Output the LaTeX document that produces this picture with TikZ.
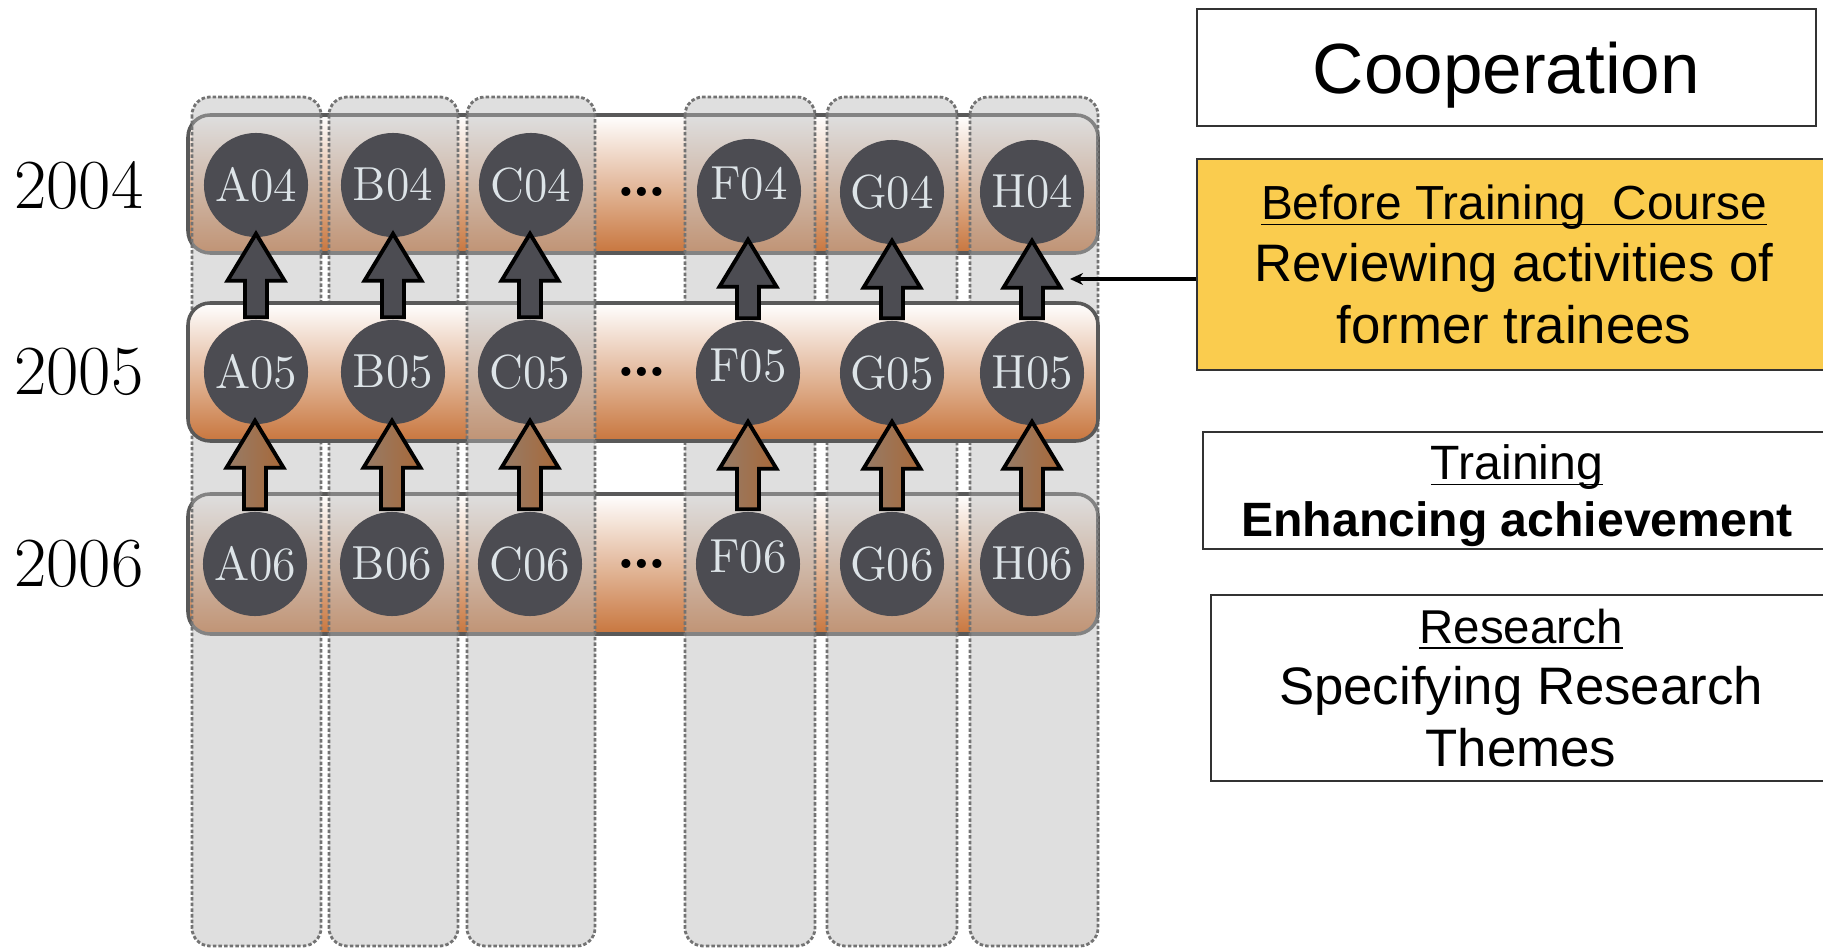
\documentclass[tikz,border=0pt]{standalone}
\usepackage{fontspec}
\newfontfamily\arialf{Liberation Sans}
\usetikzlibrary{calc,arrows.meta}
\definecolor{circfill}{RGB}{76,76,82}
\definecolor{circtext}{RGB}{221,228,232}
\definecolor{rowbot}{RGB}{200,118,62}
\definecolor{ybg}{RGB}{250,204,78}
\definecolor{arrL}{RGB}{150,124,104}
\definecolor{arrR}{RGB}{168,104,56}
\newcommand{\ulx}[1]{\underline{\raisebox{0pt}[\height][0pt]{#1}}}
\newcommand{\uparr}[3]{%
  \coordinate (tmpb) at (#1.north);
  \coordinate (tmpt) at (#1.north |- #2.south);
  \draw[#3] ($(tmpb)+(-11,-2)$) -- ($(tmpt)+(-11,43)$) -- ($(tmpt)+(-28.5,43)$)
    -- ($(tmpt)+(0,-4)$) -- ($(tmpt)+(28.5,43)$) -- ($(tmpt)+(11,43)$)
    -- ($(tmpb)+(11,-2)$) -- cycle;}
\tikzset{
  rowband/.style={draw=black!65, line width=1pt, rounded corners=0.22cm,
    top color=white, bottom color=rowbot},
  colband/.style={draw=black!55, line width=0.8pt, dash pattern=on 1pt off 0.6pt,
    rounded corners=0.18cm, fill=black!28, fill opacity=0.45},
  circ/.style={circle, fill=circfill, minimum size=1.04cm, inner sep=0pt,
    text=circtext, font=\fontsize{13.6}{14}\selectfont},
  fup/.style={text depth=0.15cm},
  year/.style={font=\fontsize{20}{22}\selectfont},
  dots/.style={anchor=base, font=\fontsize{18}{18}\selectfont\bfseries},
  darkarr/.style={draw=black, line width=1.1pt, fill=circfill, line join=miter},
  brownarr/.style={draw=black, line width=1.1pt, left color=arrL, right color=arrR, line join=miter},
  infobox/.style={draw=black!80, line width=0.5pt, inner sep=0pt, align=center},
}
\begin{document}
\begin{tikzpicture}[x=0.01cm, y=-0.01cm]
\useasboundingbox (0,0) rectangle (1823,949);
% rows 2004 and 2006
\path[rowband] (188,115) rectangle (1098,253);
\path[rowband] (188,494) rectangle (1098,634);
% columns (except C)
\path[colband] (192,97) rectangle (321,946);
\path[colband] (329,97) rectangle (458,946);
\path[colband] (685,97) rectangle (815,946);
\path[colband] (827,97) rectangle (957,946);
\path[colband] (970,97) rectangle (1098,946);
% row 2005
\path[rowband] (188,303) rectangle (1098,441);
% column C
\path[colband] (467,97) rectangle (595,946);

% year labels
\node[year] (y04) at (79,186) {2004};
\node[year] (y05) at (79,372) {2005};
\node[year] (y06) at (79,564) {2006};

% circles
\node[circ] (A04) at (256,185) {A04};
\node[circ] (B04) at (393,185) {B04};
\node[circ] (C04) at (531,185) {C04};
\node[circ,fup] (F04) at (749,191) {F04};
\node[circ] (G04) at (892,192) {G04};
\node[circ] (H04) at (1032,192) {H04};

\node[circ] (A05) at (256,372) {A05};
\node[circ] (B05) at (393,372) {B05};
\node[circ] (C05) at (530,372) {C05};
\node[circ,fup] (F05) at (748,373) {F05};
\node[circ] (G05) at (892,373) {G05};
\node[circ] (H05) at (1032,373) {H05};

\node[circ] (A06) at (255,564) {A06};
\node[circ] (B06) at (392,564) {B06};
\node[circ] (C06) at (530,564) {C06};
\node[circ,fup] (F06) at (748,564) {F06};
\node[circ] (G06) at (892,564) {G06};
\node[circ] (H06) at (1032,564) {H06};

% dots
\node[dots] (d04) at (642,197) {\ldots};
\node[dots] (d05) at (642,377) {\ldots};
\node[dots] (d06) at (642,569) {\ldots};

% block arrows
\foreach \c in {A,B,C,F,G,H}{
  \uparr{\c05}{\c04}{darkarr}
  \uparr{\c06}{\c05}{brownarr}
}

% right boxes
\node[infobox, fill=white, minimum width=6.19cm, minimum height=1.17cm, text depth=0pt,
  font=\arialf\fontsize{20.2}{24}\selectfont] (coop) at (1506.5,67.5) {Cooperation};
\node[infobox, fill=ybg, minimum width=6.34cm, minimum height=2.11cm,
  font=\arialf\fontsize{15}{17.6}\selectfont] (ybox) at (1514,264.5)
  {{\fontsize{13.6}{17.6}\selectfont\ulx{Before Training\ \ Course}}\\
   Reviewing activities of\\ former trainees};
\node[infobox, fill=white, minimum width=6.28cm, minimum height=1.17cm, text depth=0pt,
  font=\arialf\fontsize{13.7}{16.2}\selectfont] (tbox) at (1517,490.5)
  {\ulx{Training}\\ \textbf{Enhancing achievement}};
\node[infobox, fill=white, minimum width=6.20cm, minimum height=1.86cm,
  font=\arialf\fontsize{15}{17.6}\selectfont] (rbox) at (1521,688)
  {{\fontsize{13.5}{17.6}\selectfont\ulx{Research}}\\ Specifying Research\\ Themes};

% pointer
\coordinate (ptr) at (1070,279);
\draw[-{Stealth[length=0.13cm,width=0.12cm]}, line width=0.9pt] (ptr -| ybox.west) -- (ptr);
\end{tikzpicture}
\end{document}
